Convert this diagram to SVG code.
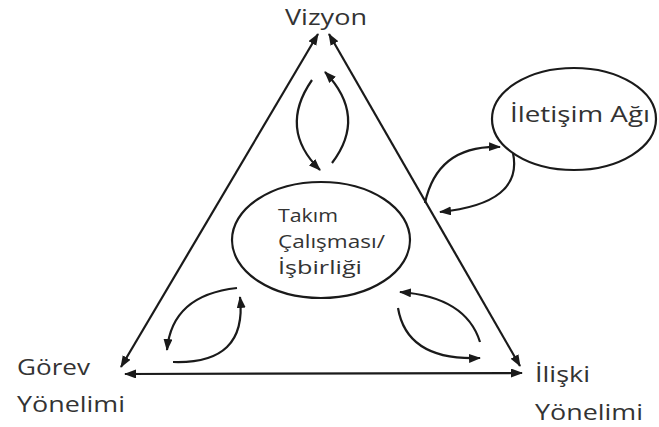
<svg xmlns="http://www.w3.org/2000/svg" width="659" height="427" viewBox="0 0 659 427">
<defs>
<marker id="ah" markerWidth="13" markerHeight="10" refX="11" refY="4.5" orient="auto-start-reverse" markerUnits="userSpaceOnUse">
<path d="M0,0 L12,4.5 L0,9 z" fill="#1a1a1a"/>
</marker>
<style>
.lbl{font-family:"Open Sans","DejaVu Sans",sans-serif;font-size:21px;fill:#333333}
.ctr{font-family:"Open Sans","DejaVu Sans",sans-serif;font-size:18px;fill:#333333}
.edge{fill:none;stroke:#1a1a1a;stroke-width:2.2}
.node{fill:#ffffff;stroke:#1a1a1a;stroke-width:2.2}
</style>
</defs>
<rect width="659" height="427" fill="#ffffff"/>
<g id="connectors">
<line class="edge" x1="121" y1="367" x2="318" y2="34" marker-start="url(#ah)" marker-end="url(#ah)"/>
<line class="edge" x1="520" y1="366" x2="329" y2="34" marker-start="url(#ah)" marker-end="url(#ah)"/>
<line class="edge" x1="125" y1="374" x2="522" y2="373" marker-start="url(#ah)" marker-end="url(#ah)"/>
<path class="edge" d="M312,80 Q278,129 320,170" marker-end="url(#ah)"/>
<path class="edge" d="M332,163 Q367.5,116.5 325,72" marker-end="url(#ah)"/>
<path class="edge" d="M237,288 Q172,295 167,350" marker-end="url(#ah)"/>
<path class="edge" d="M173,362 Q247.5,364.5 240,297" marker-end="url(#ah)"/>
<path class="edge" d="M480,342 Q466,297 400,292" marker-end="url(#ah)"/>
<path class="edge" d="M398,308 Q407,361 480,358" marker-end="url(#ah)"/>
<path class="edge" d="M425,203 Q437.5,145 500,147" marker-end="url(#ah)"/>
<path class="edge" d="M513,153 Q523.5,203.5 440,212" marker-end="url(#ah)"/>
</g>
<g id="vizyon">
<text class="lbl" x="285" y="25" textLength="82" lengthAdjust="spacingAndGlyphs">Vizyon</text>
</g>
<g id="iletisim">
<ellipse class="node" cx="574" cy="119" rx="82" ry="51"/>
<text class="lbl" x="510" y="122" textLength="140" lengthAdjust="spacingAndGlyphs">İletişim Ağı</text>
</g>
<g id="takim">
<ellipse class="node" cx="321" cy="240" rx="89" ry="58"/>
<text class="ctr" x="278" y="222" textLength="60" lengthAdjust="spacingAndGlyphs">Takım</text>
<text class="ctr" x="278" y="248" textLength="107" lengthAdjust="spacingAndGlyphs">Çalışması/</text>
<text class="ctr" x="278" y="274" textLength="84" lengthAdjust="spacingAndGlyphs">İşbirliği</text>
</g>
<g id="gorev">
<text class="lbl" x="17" y="375" textLength="73" lengthAdjust="spacingAndGlyphs">Görev</text>
<text class="lbl" x="17" y="412" textLength="108" lengthAdjust="spacingAndGlyphs">Yönelimi</text>
</g>
<g id="iliski">
<text class="lbl" x="535" y="382" textLength="55" lengthAdjust="spacingAndGlyphs">İlişki</text>
<text class="lbl" x="535" y="420" textLength="108" lengthAdjust="spacingAndGlyphs">Yönelimi</text>
</g>
</svg>
